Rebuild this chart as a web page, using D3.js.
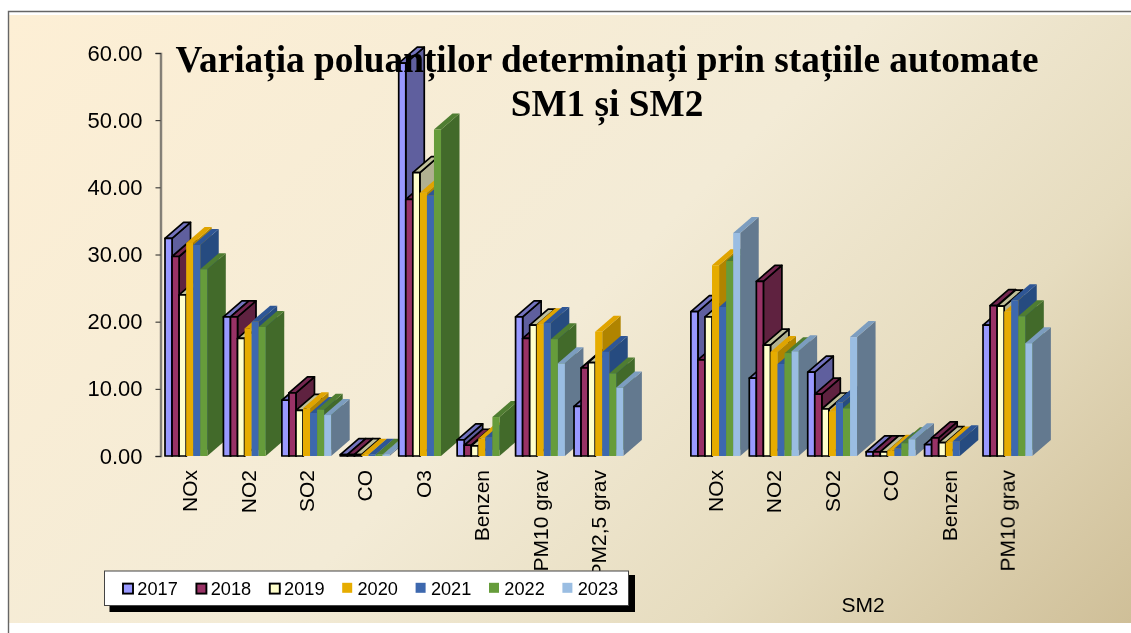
<!DOCTYPE html>
<html><head><meta charset="utf-8">
<style>html,body{margin:0;padding:0;background:#fff}svg{display:block}</style>
<script src="https://cdn.jsdelivr.net/npm/d3@7"></script></head>
<body><div id="c"></div>
<script>
const titleLines = ["Variația poluanților determinați prin stațiile automate", "SM1 și SM2"];
const categories = ["NOx","NO2","SO2","CO","O3","Benzen","PM10 grav","PM2,5 grav","","NOx ","NO2 ","SO2 ","CO ","Benzen ","PM10 grav "];
const years = ["2017","2018","2019","2020","2021","2022","2023"];
const v2017 = [32.4,20.7,8.3,0.2,58.5,2.4,20.7,7.4,0,21.5,11.6,12.5,0.6,1.7,19.5];
const v2018 = [29.7,20.7,9.4,0.2,38.2,1.6,17.5,13.1,0,14.3,26.0,9.2,0.6,2.7,22.4];
const v2019 = [24.0,17.5,6.8,0.2,42.2,1.5,19.5,13.9,0,20.7,16.5,7.0,0.6,2.0,22.3];
const v2020 = [31.7,19.0,7.1,0.2,39.2,2.6,19.6,18.5,0,28.4,15.5,6.6,0.8,2.0,21.5];
const v2021 = [31.4,20.0,6.4,0.2,38.8,2.8,19.8,15.5,0,22.2,13.7,8.0,1.1,2.2,23.2];
const v2022 = [27.8,19.2,6.9,0.2,48.6,5.8,17.4,12.3,0,29.0,15.3,7.1,1.9,0,20.8];
const v2023 = [0,0,6.1,0.2,0,0,13.8,10.2,0,33.2,15.6,17.7,2.5,0,16.8];
const series = [v2017,v2018,v2019,v2020,v2021,v2022,v2023];
const yTicks = [0,10,20,30,40,50,60];
const front = ["#9999FF","#993366","#FFFFCC","#E6AC00","#3C68AE","#669C3A","#9ABDE2"];
const topC  = ["#7373BF","#732650","#BFBF99","#E0A400","#2F5796","#4F7D30","#7C9DBF"];
const side  = ["#5F5F9E","#5F2040","#B0B090","#B08400","#264C80","#436A2B","#64798F"];
const outlined = [true,true,true,false,false,false,false];

const W=1131,H=633;
const svg=d3.select("#c").append("svg").attr("width",W).attr("height",H);
const defs=svg.append("defs");
const g=defs.append("linearGradient").attr("id","bg").attr("gradientUnits","userSpaceOnUse")
 .attr("x1",9).attr("y1",14).attr("x2",874).attr("y2",879);
g.append("stop").attr("offset",0).attr("stop-color","#FDEFD5");
g.append("stop").attr("offset",0.5).attr("stop-color","#F3EBD6");
g.append("stop").attr("offset",0.75).attr("stop-color","#E6DCBF");
g.append("stop").attr("offset",1).attr("stop-color","#CFBF98");
const soft=(id,s)=>defs.append("filter").attr("id",id).attr("x","-5%").attr("y","-5%").attr("width","110%").attr("height","110%")
 .append("feGaussianBlur").attr("stdDeviation",s);
soft("soft",0.6); soft("softT",0.3);

svg.append("rect").attr("x",9).attr("y",15).attr("width",W-9).attr("height",608).attr("fill","url(#bg)");
svg.append("path").attr("d",`M8.5 ${H}V11.5H${W}`).attr("fill","none").attr("stroke","#666").attr("stroke-width",1.4);

const y=d3.scaleLinear().domain([0,60]).range([456,53]);
const x=d3.scaleBand().domain(categories).range([160.5,160.5+58.43*categories.length]);
const bx=d3.scaleBand().domain(years).range([4.5,4.5+7.05*7]);
const dx=18.5,dy=16;

const marks=svg.append("g").attr("filter","url(#soft)");
const ax=d3.axisLeft(y).tickValues(yTicks).tickFormat(d3.format(".2f")).tickSize(5).tickPadding(13);
const axis=svg.append("g").attr("transform","translate(160.5,0)").call(ax);
axis.select(".domain").attr("stroke","#444").attr("stroke-width",1.6);
axis.selectAll(".tick line").attr("stroke","#222");
axis.selectAll("text").attr("font-family","'Liberation Sans',Arial,sans-serif").attr("font-size",22).attr("fill","#000");
axis.attr("filter","url(#softT)");

categories.forEach((cat,ci)=>{
  if(!cat) return;
  series.forEach((vals,si)=>{
    const v=vals[ci]; if(!v) return;
    const x0=x(cat)+bx(years[si]), x1=x0+bx.bandwidth(), yb=y(0), yt=y(v);
    const st=outlined[si]?"#000":"none", sw=outlined[si]?1.7:0;
    const b=marks.append("g").attr("stroke",st).attr("stroke-width",sw).attr("stroke-linejoin","round");
    b.append("path").attr("fill",side[si]).attr("d",`M${x1} ${yb}L${x1+dx} ${yb-dy}V${yt-dy}L${x1} ${yt}Z`);
    b.append("path").attr("fill",topC[si]).attr("d",`M${x0} ${yt}L${x0+dx} ${yt-dy}H${x1+dx}L${x1} ${yt}Z`);
    b.append("path").attr("fill",front[si]).attr("d",`M${x0} ${yb}V${yt}H${x1}V${yb}Z`);
  });
});

const lab=svg.append("g").attr("font-family","'Liberation Sans',Arial,sans-serif").attr("font-size",21).attr("fill","#000").attr("filter","url(#softT)");
categories.forEach(cat=>{
  if(!cat) return;
  const cx=x(cat)+x.bandwidth()/2;
  lab.append("text").attr("transform",`translate(${cx},470) rotate(-90)`)
    .attr("text-anchor","end").attr("dy","0.35em").text(cat.trim());
});

const tt=svg.append("g").attr("font-family","'Liberation Serif','Times New Roman',serif")
  .attr("font-weight","bold").attr("font-size",37.3).attr("text-anchor","middle").attr("fill","#000").attr("filter","url(#softT)");
titleLines.forEach((t,i)=>tt.append("text").attr("x",607).attr("y",72+i*43.5).text(t));

svg.append("rect").attr("x",109.5).attr("y",575).attr("width",525.5).attr("height",37).attr("fill","#000");
svg.append("rect").attr("x",104.5).attr("y",571).attr("width",524).attr("height",34.5).attr("fill","#fff").attr("stroke","#444");
const leg=svg.append("g").attr("filter","url(#softT)");
const lx=d3.scaleLinear().domain([0,6]).range([122,122+73.4*6]);
years.forEach((yr,i)=>{
  leg.append("rect").attr("x",lx(i)+(outlined[i]?1:0)).attr("y",outlined[i]?583.6:582.8).attr("width",10).attr("height",10)
    .attr("fill",front[i]).attr("stroke",outlined[i]?"#000":"none").attr("stroke-width",1.9);
  leg.append("text").attr("x",lx(i)+15.3).attr("y",595).attr("font-family","'Liberation Sans',Arial,sans-serif")
    .attr("font-size",18.2).attr("fill","#000").text(yr);
});
svg.append("text").attr("x",863).attr("y",612).attr("text-anchor","middle").attr("font-family","'Liberation Sans',Arial,sans-serif")
  .attr("font-size",21).attr("filter","url(#softT)").text("SM2");
</script></body></html>
